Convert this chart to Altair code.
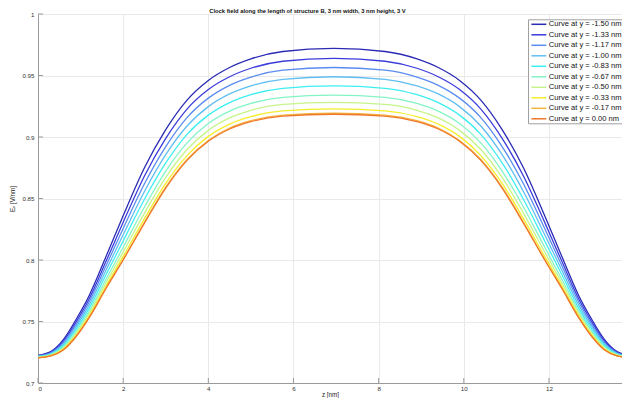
import altair as alt
import pandas as pd

Z = [0.0, 0.3, 0.6, 0.9, 1.2, 1.6, 2.0, 2.5, 3.0, 3.5, 4.0, 4.5, 5.0, 5.75, 6.95,
     8.15, 8.9, 9.4, 9.9, 10.4, 10.9, 11.4, 11.9, 12.3, 12.7, 13.0, 13.3, 13.6, 13.9]

LABELS = ["Curve at y = -1.50 nm", "Curve at y = -1.33 nm", "Curve at y = -1.17 nm",
          "Curve at y = -1.00 nm", "Curve at y = -0.83 nm", "Curve at y = -0.67 nm",
          "Curve at y = -0.50 nm", "Curve at y = -0.33 nm", "Curve at y = -0.17 nm",
          "Curve at y = 0.00 nm"]

COLORS = ["#2a2ab4", "#3c3cdc", "#5a8cf0", "#60bef2", "#3eeef2",
          "#84f4c6", "#c6f48a", "#f4ee2a", "#f4b43e", "#f0782c"]

C_M150 = [0.7225, 0.7255, 0.7355, 0.7520, 0.7710, 0.8030, 0.8360, 0.8750, 0.9060, 0.9300, 0.9460, 0.9565, 0.9635, 0.9695, 0.9720,
          0.9695, 0.9635, 0.9565, 0.9460, 0.9300, 0.9060, 0.8750, 0.8360, 0.8030, 0.7710, 0.7520, 0.7355, 0.7255, 0.7225]
C_M133 = [0.7222, 0.7250, 0.7342, 0.7499, 0.7683, 0.7991, 0.8306, 0.8683, 0.8989, 0.9227, 0.9386, 0.9490, 0.9559, 0.9616, 0.9640,
          0.9616, 0.9559, 0.9490, 0.9386, 0.9227, 0.8989, 0.8683, 0.8306, 0.7991, 0.7683, 0.7499, 0.7342, 0.7250, 0.7222]
C_M117 = [0.7219, 0.7245, 0.7330, 0.7479, 0.7658, 0.7955, 0.8256, 0.8620, 0.8922, 0.9158, 0.9316, 0.9420, 0.9487, 0.9543, 0.9565,
          0.9543, 0.9487, 0.9420, 0.9316, 0.9158, 0.8922, 0.8620, 0.8256, 0.7955, 0.7658, 0.7479, 0.7330, 0.7245, 0.7219]
C_M100 = [0.7216, 0.7240, 0.7318, 0.7460, 0.7633, 0.7918, 0.8205, 0.8557, 0.8856, 0.9089, 0.9247, 0.9350, 0.9416, 0.9469, 0.9490,
          0.9469, 0.9416, 0.9350, 0.9247, 0.9089, 0.8856, 0.8557, 0.8205, 0.7918, 0.7633, 0.7460, 0.7318, 0.7240, 0.7216]
C_M083 = [0.7214, 0.7235, 0.7307, 0.7440, 0.7607, 0.7882, 0.8155, 0.8494, 0.8789, 0.9021, 0.9178, 0.9280, 0.9344, 0.9396, 0.9415,
          0.9396, 0.9344, 0.9280, 0.9178, 0.9021, 0.8789, 0.8494, 0.8155, 0.7882, 0.7607, 0.7440, 0.7307, 0.7235, 0.7214]
C_M067 = [0.7211, 0.7230, 0.7295, 0.7421, 0.7582, 0.7845, 0.8104, 0.8431, 0.8723, 0.8952, 0.9109, 0.9210, 0.9273, 0.9322, 0.9340,
          0.9322, 0.9273, 0.9210, 0.9109, 0.8952, 0.8723, 0.8431, 0.8104, 0.7845, 0.7582, 0.7421, 0.7295, 0.7230, 0.7211]
C_M050 = [0.7209, 0.7226, 0.7285, 0.7405, 0.7562, 0.7817, 0.8065, 0.8381, 0.8671, 0.8898, 0.9054, 0.9155, 0.9217, 0.9265, 0.9281,
          0.9265, 0.9217, 0.9155, 0.9054, 0.8898, 0.8671, 0.8381, 0.8065, 0.7817, 0.7562, 0.7405, 0.7285, 0.7226, 0.7209]
C_M033 = [0.7207, 0.7223, 0.7277, 0.7391, 0.7544, 0.7791, 0.8029, 0.8336, 0.8623, 0.8849, 0.9005, 0.9105, 0.9166, 0.9212, 0.9228,
          0.9212, 0.9166, 0.9105, 0.9005, 0.8849, 0.8623, 0.8336, 0.8029, 0.7791, 0.7544, 0.7391, 0.7277, 0.7223, 0.7207]
C_M017 = [0.7205, 0.7221, 0.7271, 0.7382, 0.7533, 0.7774, 0.8005, 0.8307, 0.8592, 0.8817, 0.8972, 0.9073, 0.9133, 0.9178, 0.9193,
          0.9178, 0.9133, 0.9073, 0.8972, 0.8817, 0.8592, 0.8307, 0.8005, 0.7774, 0.7533, 0.7382, 0.7271, 0.7221, 0.7205]
C_000 = [0.7205, 0.7220, 0.7270, 0.7380, 0.7530, 0.7770, 0.8000, 0.8300, 0.8585, 0.8810, 0.8965, 0.9065, 0.9125, 0.9170, 0.9185,
         0.9170, 0.9125, 0.9065, 0.8965, 0.8810, 0.8585, 0.8300, 0.8000, 0.7770, 0.7530, 0.7380, 0.7270, 0.7220, 0.7205]

CURVES = [C_M150, C_M133, C_M117, C_M100, C_M083, C_M067, C_M050, C_M033, C_M017, C_000]

X_TICKS = [0, 2, 4, 6, 8, 10, 12]
Y_TICKS = [0.7, 0.75, 0.8, 0.85, 0.9, 0.95, 1.0]

rows = []
for i, (lab, vals) in enumerate(zip(LABELS, CURVES)):
    for z, v in zip(Z, vals):
        rows.append({"z": z, "E": v, "curve": lab, "k": i})
df = pd.DataFrame(rows)

FONT = "Liberation Sans"
AX = "#9a9a9a"
W, H = 584, 369
xscale = alt.Scale(domain=[0, 13.715], nice=False, zero=False)
yscale = alt.Scale(domain=[0.7, 1.0], nice=False, zero=False)
xaxis = alt.Axis(values=X_TICKS, title="z [nm]", grid=True, ticks=False,
                 labelPadding=2, titlePadding=0, format="d")
yaxis = alt.Axis(values=Y_TICKS, title="Eₓ [V/nm]", grid=True, ticks=False,
                 labelPadding=4, titlePadding=6, format="~g")

lines = alt.Chart(df).mark_line(strokeWidth=1.3, interpolate="monotone", clip=True).encode(
    x=alt.X("z:Q", scale=xscale, axis=xaxis),
    y=alt.Y("E:Q", scale=yscale, axis=yaxis),
    color=alt.Color("curve:N", sort=LABELS,
                    scale=alt.Scale(domain=LABELS, range=COLORS),
                    legend=alt.Legend(title=None, orient="none", legendX=490, legendY=5.3,
                                      fillColor="white", strokeColor="#a0a0a0", padding=0.5,
                                      labelFontSize=7.55, labelFont=FONT, labelColor="#111",
                                      symbolType="M-2,0H2", symbolSize=56,
                                      symbolOffset=5.85,
                                      symbolStrokeWidth=1.5, rowPadding=1.5, labelOffset=5.45,
                                      labelLimit=200)),
    detail="k:O",
)

xt = pd.DataFrame({"z": X_TICKS})
yt = pd.DataFrame({"E": Y_TICKS})
xticks = alt.Chart(xt).mark_rule(color=AX, strokeWidth=1).encode(
    x=alt.X("z:Q", scale=xscale, axis=xaxis), y=alt.value(H), y2=alt.value(H - 5))
yticks = alt.Chart(yt).mark_rule(color=AX, strokeWidth=1).encode(
    y=alt.Y("E:Q", scale=yscale, axis=yaxis), x=alt.value(0), x2=alt.value(5))

chart = alt.layer(lines, xticks, yticks).properties(
    width=W, height=H,
    autosize=alt.AutoSizeParams(type="none"),
    padding={"left": 30, "top": 6, "right": 0, "bottom": 15},
    title=alt.TitleParams(text="Clock field along the length of structure B, 3 nm width, 3 nm height, 3 V",
                          font=FONT, fontSize=5.8, fontWeight="bold", color="#111",
                          dx=-22.5, offset=0, dy=2.5),
).configure_view(stroke=None).configure_axis(
    domainColor=AX, domainWidth=1, gridColor="#e9e9e9", gridWidth=1,
    labelFont=FONT, labelFontSize=6.2, labelColor="#333",
    titleFont=FONT, titleFontSize=6.3, titleColor="#222", titleFontWeight="normal",
)

chart.save("out.html", embed_options={"renderer": "svg", "actions": False})
